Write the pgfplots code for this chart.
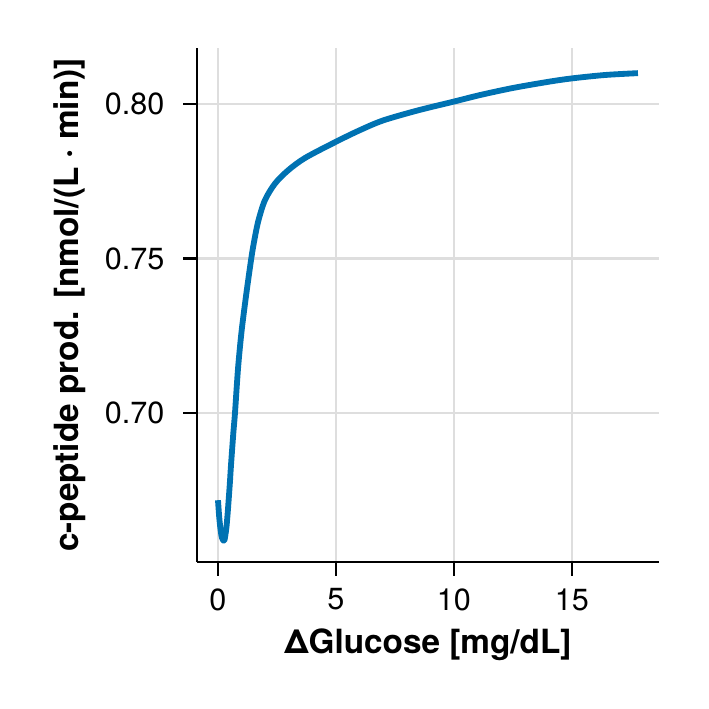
\documentclass[border=0pt]{standalone}
\usepackage{pgfplots}
\pgfplotsset{compat=1.18}
\usepackage{fontspec}
\setmainfont{TeX Gyre Heros}
\definecolor{cblue}{RGB}{0,114,178}
\begin{document}
\begin{tikzpicture}[x=1pt,y=1pt]
\path[use as bounding box] (-70.92,-52.92) rectangle (184.32,202.32);
\begin{axis}[
  at={(0,0)}, anchor=south west,
  scale only axis, width=166.3pt, height=185pt,
  xmin=-0.89, xmax=18.69, ymin=0.6518, ymax=0.8181,
  axis x line*=bottom, axis y line*=left,
  axis line style={-, line width=0.9pt, black},
  xtick={0,5,10,15}, ytick={0.70,0.75,0.80},
  tick align=outside, major tick length=5pt,
  tick style={line width=0.9pt, black},
  grid=major, major grid style={line width=0.9pt, black!13},
  /pgf/number format/assume math mode=true,
  ticklabel style={font=\fontsize{11}{12}\selectfont},
  yticklabel style={xshift=-3.2pt, /pgf/number format/.cd, fixed, fixed zerofill, precision=2},
  xticklabel style={yshift=-1pt},
  label style={font=\bfseries\fontsize{12}{13}\selectfont},
  xlabel={ΔGlucose [mg/dL]},
  ylabel={c-peptide prod. [nmol/(L · min)]},
  xlabel style={at={(axis description cs:0.5,-0.1615)}, anchor=center},
  ylabel style={at={(axis description cs:-0.2748,0.5)}, anchor=center},
]
\addplot[cblue, line width=2.1pt, line join=round, smooth, tension=0.5] coordinates {
(0, 0.6718)
(0.05, 0.6665)
(0.1, 0.6628)
(0.15, 0.6602)
(0.2, 0.6591)
(0.27, 0.6588)
(0.35, 0.6625)
(0.41, 0.6676)
(0.5, 0.6770)
(0.55, 0.6830)
(0.65, 0.6935)
(0.72, 0.7000)
(0.85, 0.7145)
(1.0, 0.7265)
(1.19, 0.7380)
(1.40, 0.7495)
(1.53, 0.7555)
(1.71, 0.7622)
(1.99, 0.7689)
(2.42, 0.7743)
(2.98, 0.7786)
(3.7, 0.7826)
(5.0, 0.7878)
(6.0, 0.7915)
(7.0, 0.7947)
(8.5, 0.7980)
(10, 0.8008)
(11.1, 0.8029)
(12.5, 0.8052)
(14, 0.8072)
(15, 0.8083)
(16.4, 0.8094)
(17.8, 0.8100)
};
\end{axis}
\end{tikzpicture}
\end{document}
